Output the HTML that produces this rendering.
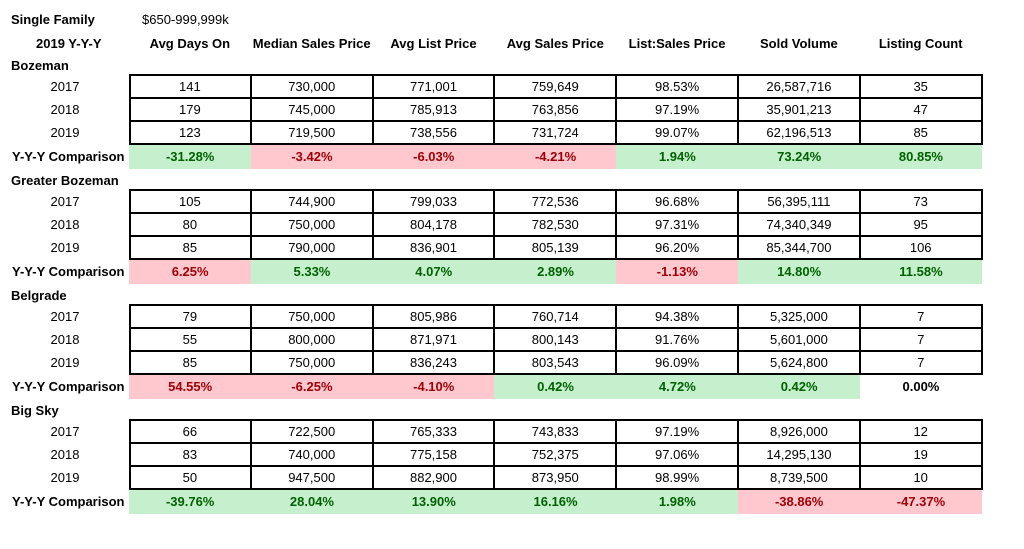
<!DOCTYPE html>
<html><head><meta charset="utf-8">
<style>
body{margin:0;width:1024px;height:549px;background:#fff;overflow:hidden;font-family:"Liberation Sans",sans-serif;font-size:13px;color:#000;position:relative}
.t{position:absolute;white-space:nowrap;line-height:23px}
.b{font-weight:bold}
.c{position:absolute;text-align:center;line-height:23px;box-sizing:border-box}
.box{position:absolute;border:2px solid #000;box-sizing:border-box}
.vl{position:absolute;width:2px;background:#000}
.hl{position:absolute;height:2px;background:#000}
.g{background:#c6efce;color:#006100;font-weight:bold}
.r{background:#ffc7ce;color:#9c0006;font-weight:bold}
.n{color:#000;font-weight:bold}
</style></head><body>
<div class="t b" style="left:11px;top:8px">Single Family</div>
<div class="t" style="left:142px;top:8px">$650-999,999k</div>
<div class="t b" style="left:36px;top:32px">2019 Y-Y-Y</div>
<div id="root"></div>
<script>
const headers=["Avg Days On","Median Sales Price","Avg List Price","Avg Sales Price","List:Sales Price","Sold Volume","Listing Count"];
const regions=["Bozeman","Greater Bozeman","Belgrade","Big Sky"];
const years=["2017","2018","2019"];
const values=[
[["141","730,000","771,001","759,649","98.53%","26,587,716","35"],["179","745,000","785,913","763,856","97.19%","35,901,213","47"],["123","719,500","738,556","731,724","99.07%","62,196,513","85"]],
[["105","744,900","799,033","772,536","96.68%","56,395,111","73"],["80","750,000","804,178","782,530","97.31%","74,340,349","95"],["85","790,000","836,901","805,139","96.20%","85,344,700","106"]],
[["79","750,000","805,986","760,714","94.38%","5,325,000","7"],["55","800,000","871,971","800,143","91.76%","5,601,000","7"],["85","750,000","836,243","803,543","96.09%","5,624,800","7"]],
[["66","722,500","765,333","743,833","97.19%","8,926,000","12"],["83","740,000","775,158","752,375","97.06%","14,295,130","19"],["50","947,500","882,900","873,950","98.99%","8,739,500","10"]]];
const comps=[
["-31.28%","-3.42%","-6.03%","-4.21%","1.94%","73.24%","80.85%"],
["6.25%","5.33%","4.07%","2.89%","-1.13%","14.80%","11.58%"],
["54.55%","-6.25%","-4.10%","0.42%","4.72%","0.42%","0.00%"],
["-39.76%","28.04%","13.90%","16.16%","1.98%","-38.86%","-47.37%"]];
const compStyle=[
["g","r","r","r","g","g","g"],
["r","g","g","g","r","g","g"],
["r","r","r","g","g","g","n"],
["g","g","g","g","g","r","r"]];
const X0=129,CW=121.8,TOPS=[74,189,304,419],RH=23;
const root=document.getElementById('root');
function mk(cls,l,t,w,h,txt){const d=document.createElement('div');d.className=cls;d.style.left=l+'px';d.style.top=t+'px';if(w!=null)d.style.width=w+'px';if(h!=null)d.style.height=h+'px';if(txt!=null)d.textContent=txt;root.appendChild(d);return d;}
headers.forEach((h,i)=>{
  const d=mk('c b',X0+i*CW,32,CW,23,h);
  
  
});
regions.forEach((reg,ri)=>{
  const top=TOPS[ri];
  const lab=mk('t b',11,top-32+12,null,null,reg);
  
  
  const box=mk('box',X0,top,CW*7+1,RH*3+2);
  
  
  for(let i=1;i<7;i++){const v=mk('vl',X0+i*CW-1,top,null,RH*3+2);}
  for(let j=1;j<3;j++){const hh=mk('hl',X0,top+j*RH,CW*7+1,null);}
  years.forEach((y,yi)=>{
    const yl=mk('c',10,top+1+yi*RH,110,RH,y);
    
    
    values[ri][yi].forEach((v,ci)=>{
      const c=mk('c',X0+ci*CW,top+1+yi*RH,CW,RH,v);
      
      
    });
  });
  const ct=top+RH*3+2;
  const cl=mk('t b',12,ct,null,null,'Y-Y-Y Comparison');
  
  
  comps[ri].forEach((v,ci)=>{
    const c=mk('c '+compStyle[ri][ci],X0+ci*CW,ct,CW+0.5,24,v);
    
    
  });
});
</script>
</body></html>
